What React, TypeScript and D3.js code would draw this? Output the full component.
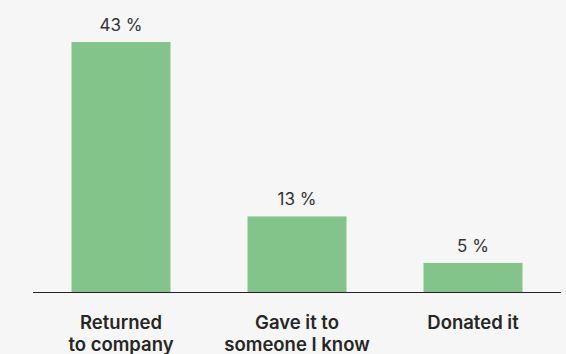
import React from "react";
import * as d3 from "d3";

const categories = ["Returned\nto company", "Gave it to\nsomeone I know", "Donated it"];
const values = [43, 13, 5];
const valueLabels = ["43 %", "13 %", "5 %"];

const W = 566;
const H = 354;

export default function App() {
  const x = d3
    .scaleBand<number>()
    .domain(d3.range(categories.length))
    .range([33, 561])
    .paddingInner(0.4375)
    .paddingOuter(0.21875);
  const y = d3.scaleLinear().domain([0, 43]).range([292, 42]);

  return (
    <svg
      width={W}
      height={H}
      style={{ position: "absolute", left: 0, top: 0, background: "#f6f6f6" }}
      fontFamily="Inter, 'Noto Sans', sans-serif"
    >
      <rect x={0} y={0} width={W} height={H} fill="#f6f6f6" />
      {values.map((v, i) => (
        <g key={i}>
          <rect
            x={x(i)}
            y={y(v)}
            width={x.bandwidth()}
            height={y(0) - y(v)}
            fill="#83c48b"
          />
          <text
            x={(x(i) as number) + x.bandwidth() / 2}
            y={y(v) - 11}
            textAnchor="middle"
            fontSize={17}
            fill="#333"
          >
            {valueLabels[i]}
          </text>
          {categories[i].split("\n").map((line, j) => (
            <text
              key={j}
              x={(x(i) as number) + x.bandwidth() / 2}
              y={328.5 + j * 22}
              textAnchor="middle"
              fontSize={18.5}
              fontWeight={600}
              fill="#262626"
            >
              {line}
            </text>
          ))}
        </g>
      ))}
      <line x1={33} x2={561} y1={292.5} y2={292.5} stroke="#222" strokeWidth={1.2} />
    </svg>
  );
}
